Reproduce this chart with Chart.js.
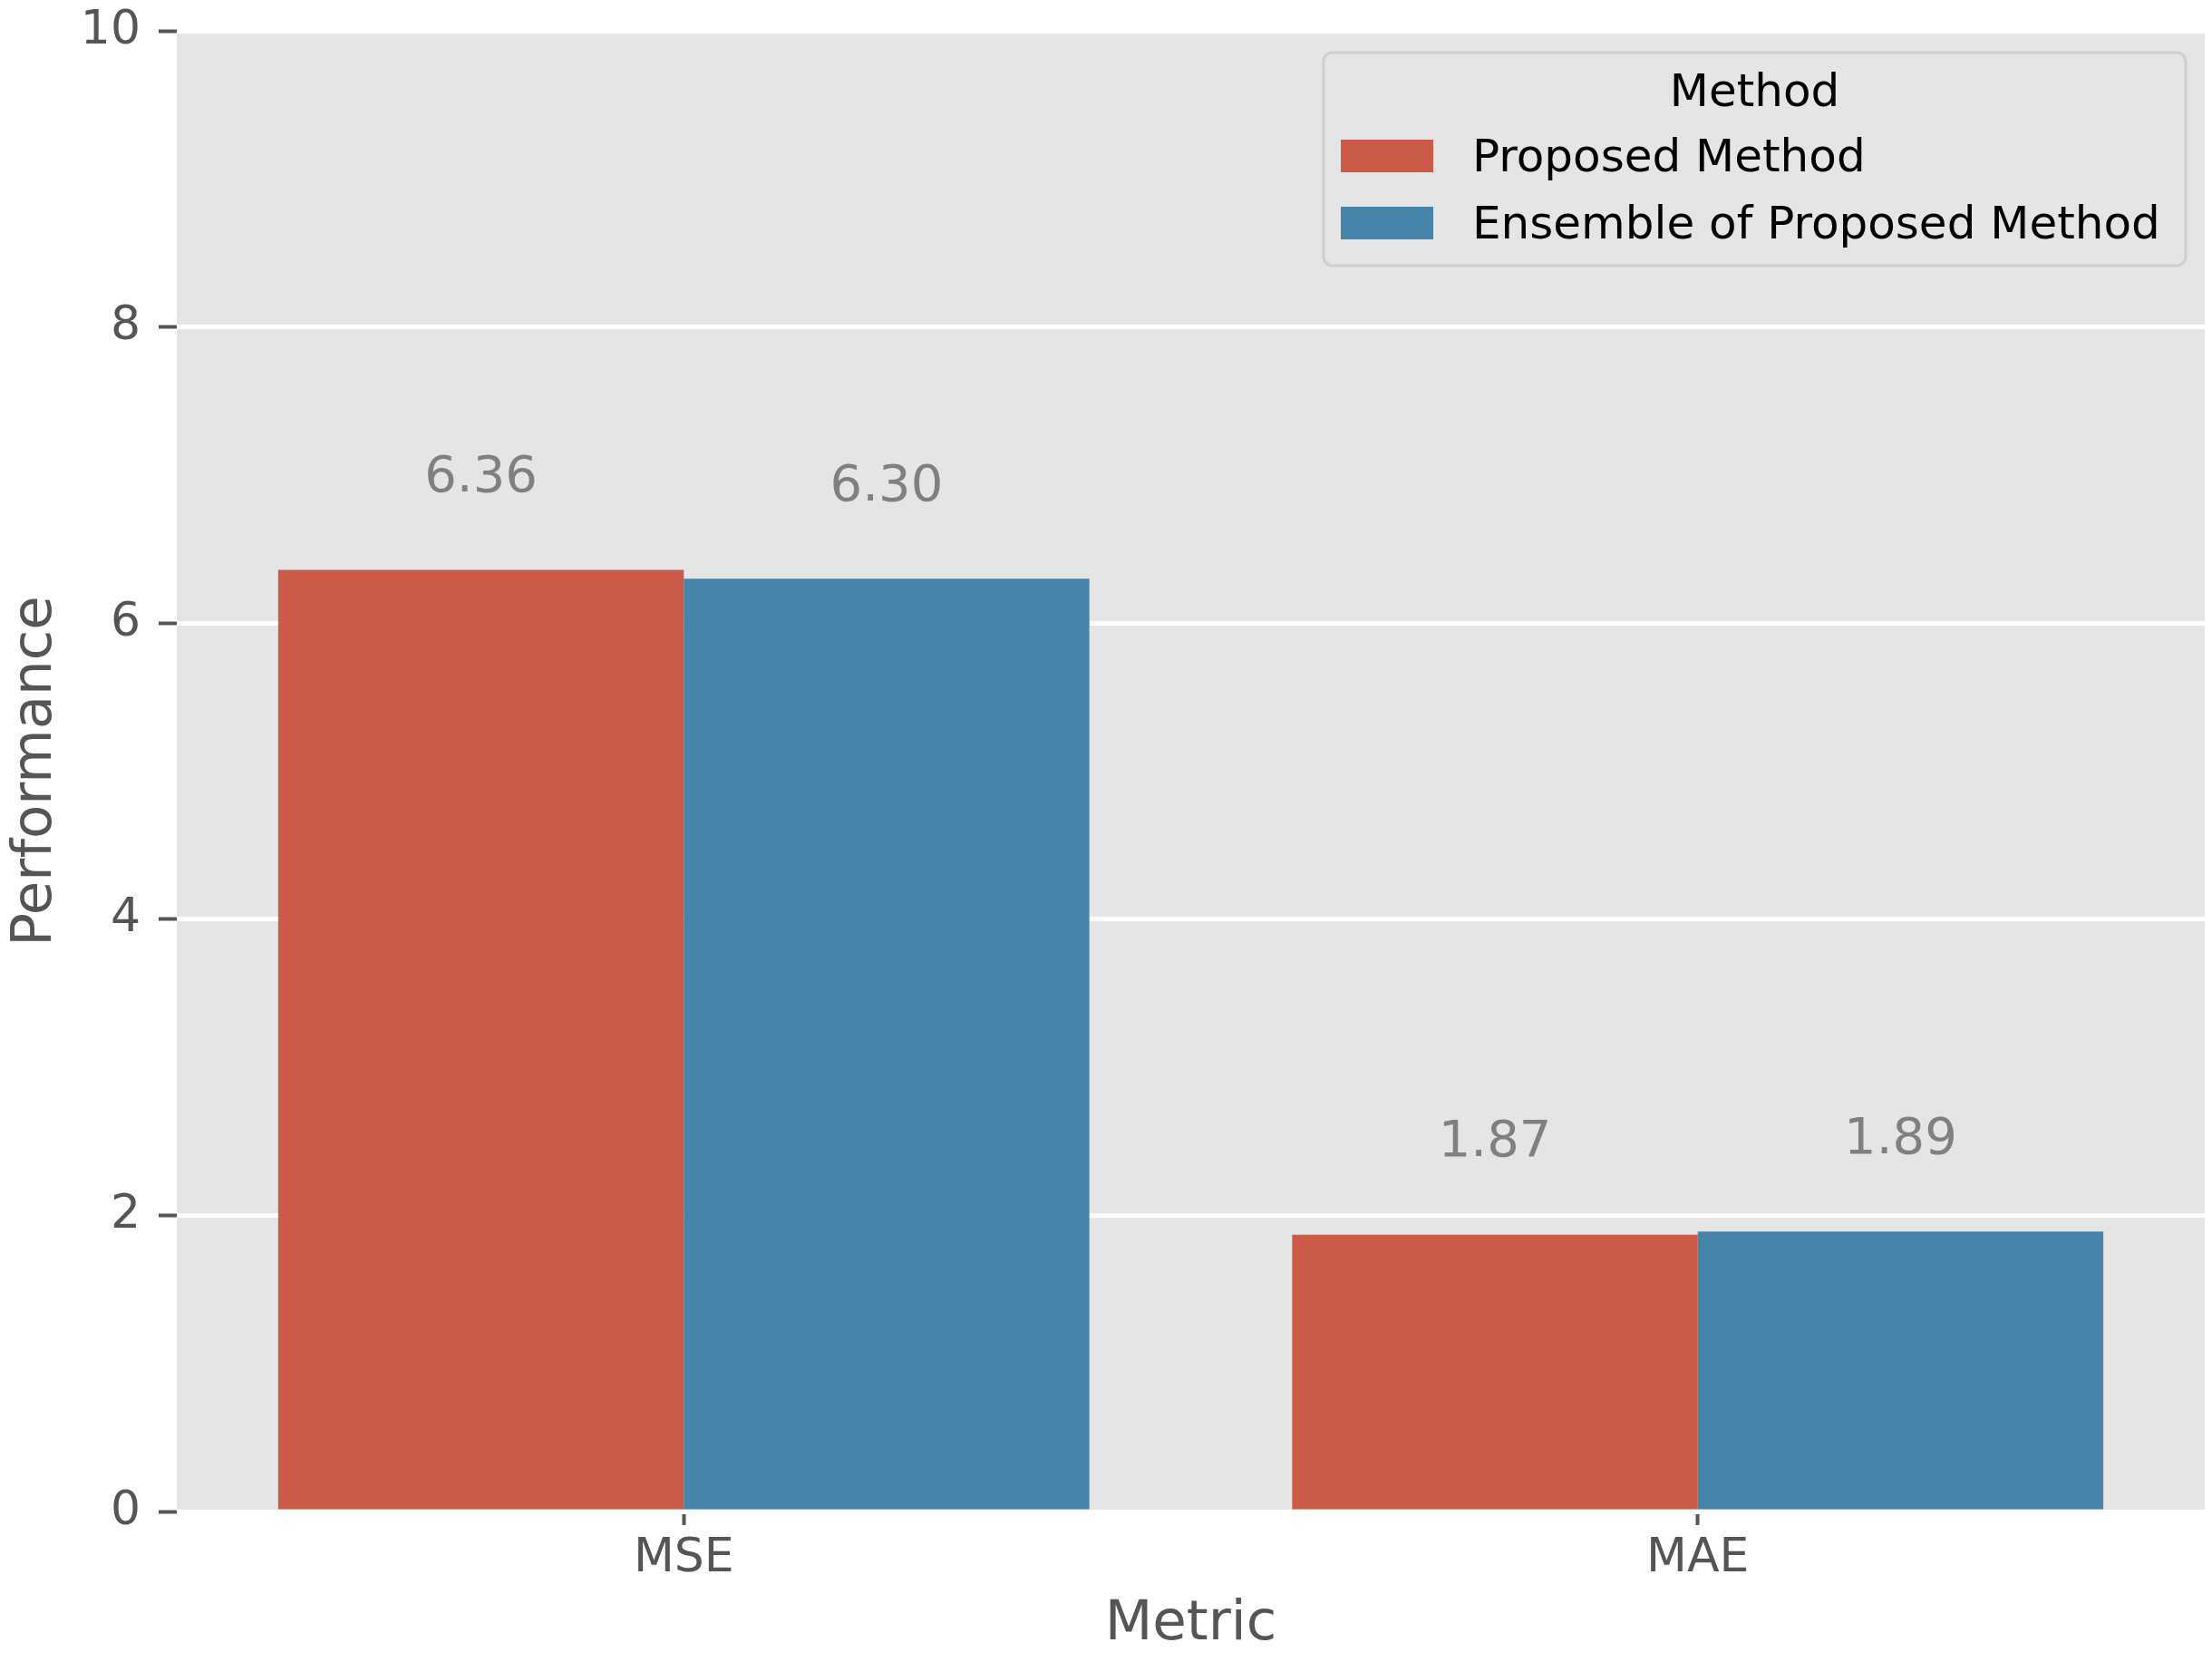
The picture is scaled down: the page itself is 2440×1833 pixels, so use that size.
<!DOCTYPE html>
<html>
<head>
<meta charset="utf-8">
<script src="https://cdn.jsdelivr.net/npm/chart.js@4"></script>
<style>
  body { margin: 0; background: #ffffff; }
  canvas { display: block; }
</style>
</head>
<body>
<canvas id="metricChart" width="2440" height="1833"></canvas>
<script>
var metrics = ['MSE', 'MAE'];
var proposed = [6.36, 1.87];
var ensemble = [6.30, 1.89];
var yTicks = [0, 2, 4, 6, 8, 10];

var FONT = "'DejaVu Sans', sans-serif";

// grey panel behind the bars
var panelBg = {
    id: 'panelBg',
    beforeDraw: function (chart) {
        var a = chart.chartArea, c = chart.ctx;
        c.save();
        c.fillStyle = '#e5e5e5';
        c.fillRect(a.left, a.top, a.right - a.left, a.bottom - a.top);
        c.restore();
    }
};

// value labels above each bar
var valueLabels = {
    id: 'valueLabels',
    afterDatasetsDraw: function (chart) {
        var c = chart.ctx, y = chart.scales.y;
        c.save();
        c.font = '56px ' + FONT;
        c.fillStyle = '#808080';
        c.textAlign = 'center';
        c.textBaseline = 'alphabetic';
        chart.data.datasets.forEach(function (ds, i) {
            chart.getDatasetMeta(i).data.forEach(function (bar, j) {
                var v = ds.data[j];
                c.fillText(v.toFixed(2), bar.x, y.getPixelForValue(v + 0.53));
            });
        });
        c.restore();
    }
};

// legend box in the top right corner of the panel
var boxLegend = {
    id: 'boxLegend',
    afterDraw: function (chart) {
        var c = chart.ctx, a = chart.chartArea;
        var x0 = a.right - 21, y0 = a.top + 24;
        var w = 951, h = 235, left = x0 - w;
        c.save();
        c.beginPath();
        c.roundRect(left, y0, w, h, 10);
        c.fillStyle = 'rgba(229,229,229,0.8)';
        c.fill();
        c.lineWidth = 3;
        c.strokeStyle = '#cfcfcf';
        c.stroke();
        c.fillStyle = '#000000';
        c.font = '50px ' + FONT;
        c.textAlign = 'center';
        c.textBaseline = 'alphabetic';
        c.fillText('Method', left + w / 2, y0 + 59);
        c.textAlign = 'left';
        chart.data.datasets.forEach(function (ds, i) {
            var top = y0 + 96 + i * 74;
            c.fillStyle = ds.backgroundColor;
            c.fillRect(left + 19, top, 102, 36);
            c.fillStyle = '#000000';
            c.fillText(ds.label, left + 164, top + 35);
        });
        c.restore();
    }
};

var ctx = document.getElementById('metricChart').getContext('2d');
var metricChart = new Chart(ctx, {
    type: 'bar',
    data: {
        labels: metrics,
        datasets: [{
            label: 'Proposed Method',
            data: proposed,
            backgroundColor: '#cc5a49',
            borderWidth: 0
        }, {
            label: 'Ensemble of Proposed Method',
            data: ensemble,
            backgroundColor: '#4585aa',
            borderWidth: 0
        }]
    },
    options: {
        responsive: false,
        animation: false,
        devicePixelRatio: 1,
        datasets: {
            bar: { categoryPercentage: 0.8, barPercentage: 1.0 }
        },
        layout: { padding: { left: 0, right: 8, top: 34, bottom: 0 } },
        plugins: {
            legend: { display: false },
            tooltip: { enabled: false }
        },
        scales: {
            x: {
                offset: true,
                border: { display: false },
                grid: {
                    offset: false,
                    drawOnChartArea: false,
                    tickLength: 15,
                    tickWidth: 4,
                    tickColor: '#555555'
                },
                ticks: {
                    color: '#555555',
                    font: { family: FONT, size: 52 },
                    padding: 6
                },
                title: {
                    display: true,
                    text: 'Metric',
                    color: '#555555',
                    font: { family: FONT, size: 61 },
                    padding: { top: 0, bottom: 4 }
                },
                afterFit: function (s) {
                    s.height = 166;
                    s.paddingRight = 0;
                    s.paddingLeft = 0;
                }
            },
            y: {
                min: 0,
                max: 10,
                border: { display: false },
                afterBuildTicks: function (s) {
                    s.ticks = yTicks.map(function (v) { return { value: v }; });
                },
                grid: {
                    color: '#ffffff',
                    lineWidth: 5,
                    tickLength: 20,
                    tickWidth: 4,
                    tickColor: '#555555'
                },
                ticks: {
                    color: '#555555',
                    font: { family: FONT, size: 52 },
                    padding: 20
                },
                title: {
                    display: true,
                    text: 'Performance',
                    color: '#555555',
                    font: { family: FONT, size: 61 },
                    padding: { top: 4, bottom: 0 }
                },
                afterFit: function (s) {
                    s.width = 195;
                    s.paddingTop = 0;
                    s.paddingBottom = 0;
                }
            }
        }
    },
    plugins: [panelBg, valueLabels, boxLegend]
});
</script>
</body>
</html>
